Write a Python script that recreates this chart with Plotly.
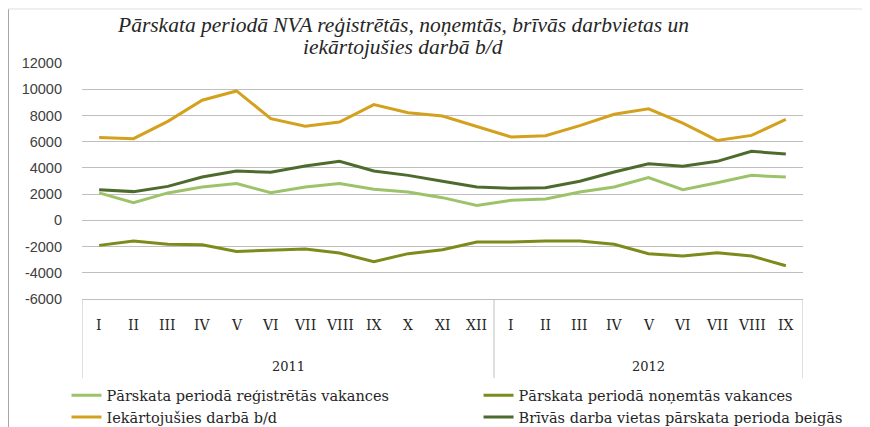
import plotly.graph_objects as go

# Dati
gadi = ["2011"] * 12 + ["2012"] * 9
menesi = ["I", "II", "III", "IV", "V", "VI", "VII", "VIII", "IX", "X", "XI", "XII",
          "I", "II", "III", "IV", "V", "VI", "VII", "VIII", "IX"]

registretas = [2090, 1350, 2090, 2540, 2800, 2110, 2540, 2800, 2370, 2160, 1730, 1140,
               1530, 1630, 2160, 2540, 3260, 2340, 2870, 3430, 3300]
nonemtas = [-1910, -1580, -1830, -1860, -2370, -2290, -2190, -2490, -3150, -2540, -2240, -1650,
            -1650, -1580, -1580, -1830, -2540, -2720, -2470, -2720, -3460]
iekartojusies = [6310, 6230, 7550, 9160, 9870, 7760, 7170, 7500, 8830, 8200, 7960, 7150,
                 6360, 6460, 7220, 8090, 8500, 7420, 6100, 6480, 7700]
brivas = [2340, 2190, 2590, 3300, 3760, 3660, 4140, 4500, 3760, 3430, 2980, 2540,
          2440, 2490, 2980, 3690, 4320, 4120, 4500, 5260, 5060]

y_ticks = [-6000, -4000, -2000, 0, 2000, 4000, 6000, 8000, 10000, 12000]
y_tick_teksti = ["-6000", "-4000", "-2000", "0", "2000", "4000", "6000", "8000", "10000", "12000"]

virsraksts = ["Pārskata periodā NVA reģistrētās, noņemtās, brīvās darbvietas un",
              "iekārtojušies darbā b/d"]

# unikālas kategorijas katram mēnesim
kategorijas = [f"{g}-{m}" for g, m in zip(gadi, menesi)]

serii = [
    ("Pārskata periodā reģistrētās vakances", registretas, "#9dc36a", "legend"),
    ("Pārskata periodā noņemtās vakances", nonemtas, "#7d8b1c", "legend2"),
    ("Iekārtojušies darbā b/d", iekartojusies, "#d4a11e", "legend"),
    ("Brīvās darba vietas pārskata perioda beigās", brivas, "#4e6b2e", "legend2"),
]

fig = go.Figure()
for nosaukums, vertibas, krasa, leg in serii:
    fig.add_trace(go.Scatter(
        x=kategorijas, y=vertibas, mode="lines", name=nosaukums,
        line=dict(color=krasa, width=3), legend=leg,
    ))

# lapai ir 8px noklusētā atkāpe, tāpēc izmēri ir mazliet mazāki
serif = "DejaVu Serif"
fig.update_layout(
    width=862, height=419,
    margin=dict(l=74, r=67, t=55, b=128, autoexpand=False),
    paper_bgcolor="white", plot_bgcolor="white",
    font=dict(family=serif, size=14, color="#262626"),
    legend=dict(
        x=-0.0215, xanchor="left", y=-0.34, yanchor="top",
        font=dict(family=serif, size=14.5, color="#262626"),
        bgcolor="rgba(0,0,0,0)", tracegroupgap=0,
    ),
    legend2=dict(
        x=0.55, xanchor="left", y=-0.34, yanchor="top",
        font=dict(family=serif, size=14.5, color="#262626"),
        bgcolor="rgba(0,0,0,0)", tracegroupgap=0,
    ),
)

# virsraksts divās rindās
for teksts, yp in zip(virsraksts, [1.161, 1.068]):
    fig.add_annotation(x=0.445, xref="paper", y=yp, yref="paper", text=f"<i>{teksts}</i>",
                       showarrow=False, xanchor="center", yanchor="middle",
                       font=dict(family="Liberation Serif", size=21.5, color="#262626"))

fig.update_xaxes(
    type="category", range=[-0.5, len(kategorijas) - 0.5],
    showticklabels=False, showgrid=False, zeroline=False,
    showline=True, linecolor="#bfbfbf", linewidth=1,
)
fig.update_yaxes(
    range=[-6000, 12000], tickvals=y_ticks, ticktext=y_tick_teksti,
    showgrid=True, gridcolor="#bfbfbf", gridwidth=1,
    zeroline=True, zerolinecolor="#bfbfbf", zerolinewidth=1,
    ticks="", ticklabelstandoff=19,
    tickfont=dict(family="Liberation Sans", size=14.5, color="#404040"),
)

# mēnešu un gadu uzraksti zem ass
for kat, m in zip(kategorijas, menesi):
    fig.add_annotation(x=kat, xref="x", y=-0.11, yref="paper", text=m,
                       showarrow=False, yanchor="middle",
                       font=dict(family=serif, size=14, color="#262626"))

gadu_saraksts = list(dict.fromkeys(gadi))
robezas = [-0.5]
for g in gadu_saraksts:
    robezas.append(robezas[-1] + gadi.count(g))
for i, g in enumerate(gadu_saraksts):
    fig.add_annotation(x=(robezas[i] + robezas[i + 1]) / 2, xref="x", y=-0.288, yref="paper",
                       text=g, showarrow=False, yanchor="middle",
                       font=dict(family=serif, size=13, color="#262626"))
for r in robezas:
    fig.add_shape(type="line", xref="x", yref="paper", x0=r, x1=r, y0=0, y1=-0.335,
                  line=dict(color="#bfbfbf", width=1))

# diagrammas rāmis
fig.add_shape(type="line", xref="paper", yref="paper", x0=-0.103, x1=-0.103, y0=1.229, y1=-0.6,
              line=dict(color="#a6a6a6", width=2.5))
fig.add_shape(type="line", xref="paper", yref="paper", x0=-0.103, x1=1.12, y0=1.229, y1=1.229,
              line=dict(color="#e0e0e0", width=1))

fig.write_html("out.html")
